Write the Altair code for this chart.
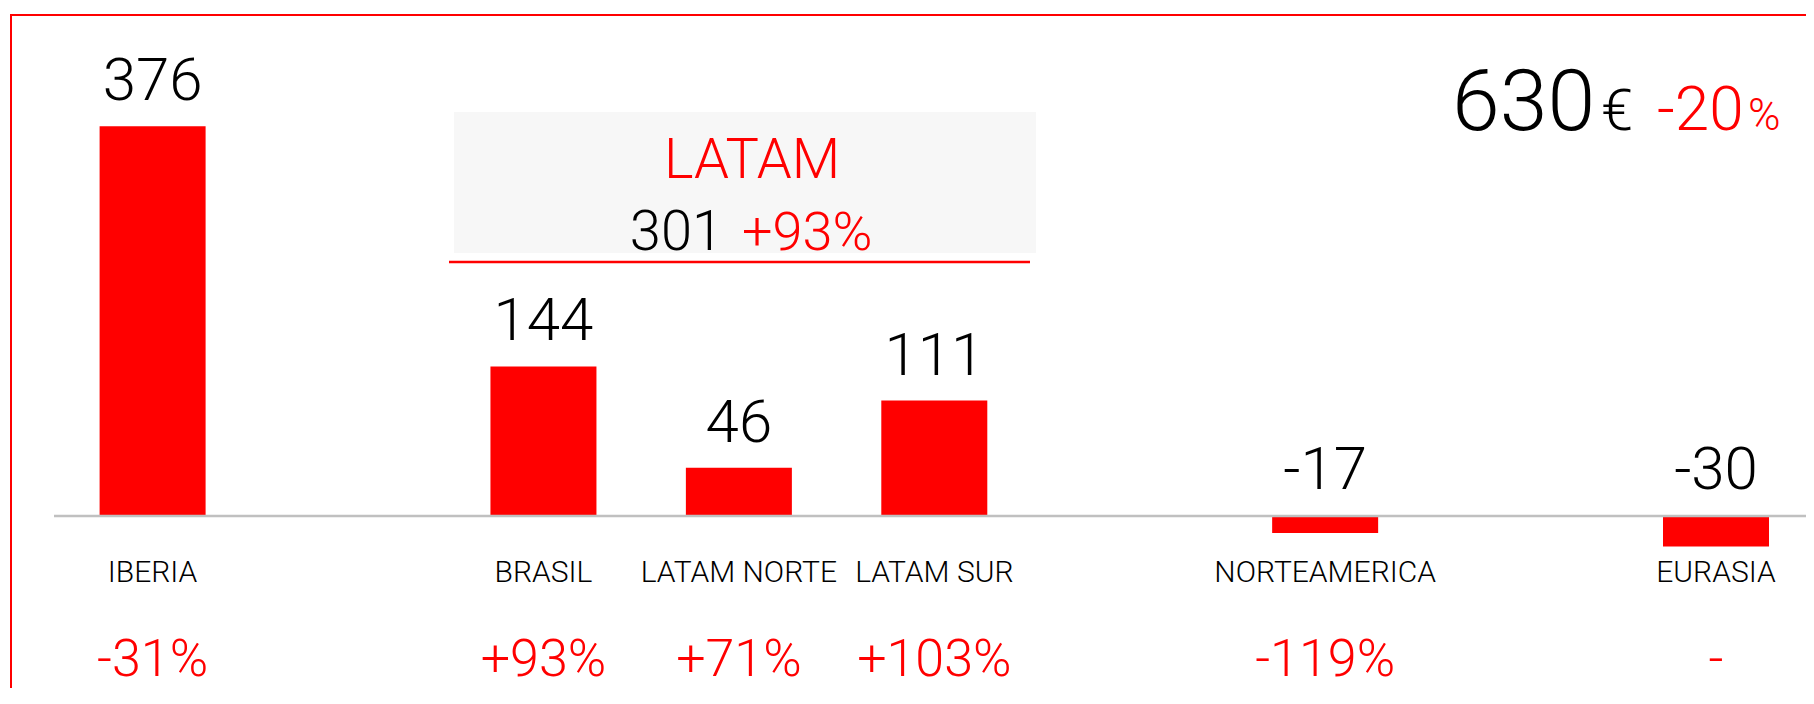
import altair as alt
import pandas as pd

# ---- data ----
categories = ["IBERIA", "BRASIL", "LATAM NORTE", "LATAM SUR", "NORTEAMERICA", "EURASIA"]
values = [376, 144, 46, 111, -17, -30]
pct_changes = ["-31%", "+93%", "+71%", "+103%", "-119%", "-"]
# empty slots separate the groups on the category axis
slot_order = ["IBERIA", " ", "BRASIL", "LATAM NORTE", "LATAM SUR", "  ", "NORTEAMERICA", "   ", "EURASIA"]

latam_label = "LATAM"
latam_total = "301"
latam_change = "+93%"
total_value = "630"
total_unit = "€"
total_change_num = "-20"
total_change_unit = "%"

RED = "#FF0000"
FONT = "Roboto"
FW = 300
W, H = 1798, 680

df = pd.DataFrame({"category": categories, "value": values, "pct": pct_changes})
one = pd.DataFrame({"k": [0]})

xs = alt.Scale(type="point", domain=slot_order, range=[144.6, 1708], padding=0)
ys = alt.Scale(domain=[-166.7, 490.3], nice=False, zero=False)

X = alt.X("category:N", scale=xs, axis=None)

border = alt.Chart(one).mark_rect(fillOpacity=0, stroke=RED, strokeWidth=2, clip=True).encode(
    x=alt.value(3), x2=alt.value(3000), y=alt.value(7), y2=alt.value(2000)
)

box = alt.Chart(one).mark_rect(color="#F7F7F7").encode(
    x=alt.value(446), x2=alt.value(1028), y=alt.value(104), y2=alt.value(245)
)
box_line = alt.Chart(one).mark_rule(color=RED, strokeWidth=2.5).encode(
    x=alt.value(441), x2=alt.value(1022), y=alt.value(254)
)

base = alt.Chart(df)

bars = base.mark_bar(color=RED, size=106).encode(
    x=X,
    y=alt.Y("value:Q", scale=ys, axis=None),
    y2=alt.datum(0),
)

baseline = alt.Chart(one).mark_rule(color="#C0C0C0", strokeWidth=2.5).encode(
    x=alt.value(46), x2=alt.value(1798), y=alt.value(508)
)

value_labels = base.transform_calculate(
    ly="max(datum.value, 0)", vtxt="toString(datum.value)"
).mark_text(
    font=FONT, fontWeight=FW, fontSize=60, color="black", baseline="alphabetic", dy=-26
).encode(x=X, y=alt.Y("ly:Q", scale=ys, axis=None), text="vtxt:N")

cat_labels = base.mark_text(
    font=FONT, fontWeight=FW, fontSize=30, color="black", baseline="alphabetic"
).encode(x=X, y=alt.value(574), text="category:N")

pct_labels = base.mark_text(
    font=FONT, fontWeight=FW, fontSize=52, color=RED, baseline="alphabetic"
).encode(x=X, y=alt.value(668), text="pct:N")


def txt(s, x, y, size, color, align):
    return alt.Chart(pd.DataFrame({"t": [s]})).mark_text(
        font=FONT, fontWeight=FW, fontSize=size, color=color, align=align, baseline="alphabetic"
    ).encode(text="t:N", x=alt.value(x), y=alt.value(y))


texts = [
    txt(latam_label, 744, 170, 56, RED, "center"),
    txt(latam_total, 715, 242, 56, "black", "right"),
    txt(latam_change, 734, 242, 54, RED, "left"),
    txt(total_value, 1444, 122, 86, "black", "left"),
    txt(total_unit, 1593, 122, 58, "black", "left"),
    txt(total_change_num, 1649, 122, 62, RED, "left"),
    txt(total_change_unit, 1740, 122, 44, RED, "left"),
]

chart = alt.layer(
    border, box, box_line, bars, baseline, value_labels, cat_labels, pct_labels, *texts
).properties(
    width=W, height=H, autosize=alt.AutoSizeParams(type="none"), padding=0
).configure_view(strokeWidth=0)

chart.save("out.html", embed_options={"renderer": "svg", "actions": False})
